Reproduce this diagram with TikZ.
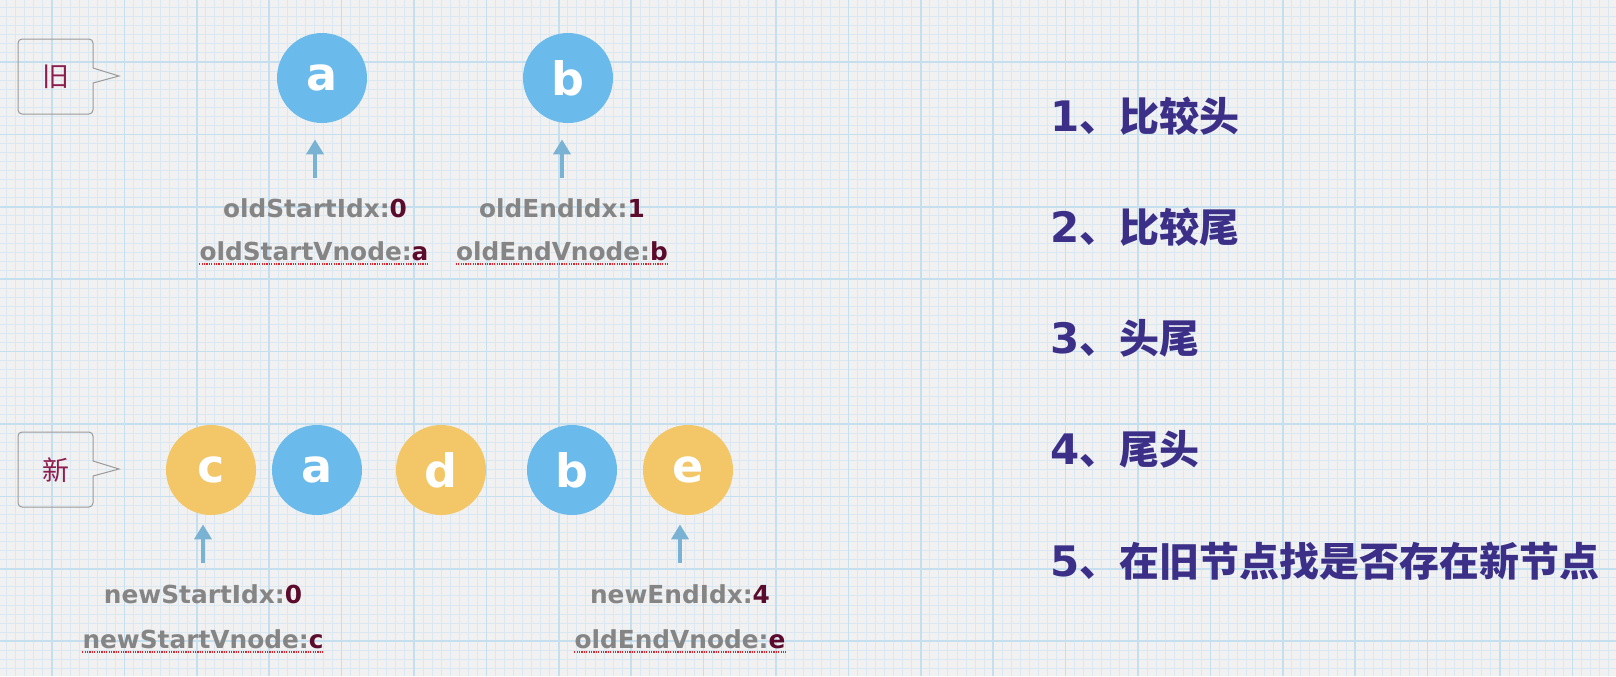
\documentclass[tikz,border=0pt]{standalone}
\usepackage{fontspec}
\setmainfont{DejaVu Sans}
\newfontfamily\cjk{Noto Sans CJK SC}
\usetikzlibrary{arrows.meta}

\definecolor{paper}{HTML}{F1F1F1}
\definecolor{finegrid}{HTML}{DCE8F1}
\definecolor{majorgrid}{HTML}{C6DFEF}
\definecolor{nodeblue}{HTML}{6ABBEB}
\definecolor{nodeyellow}{HTML}{F3C767}
\definecolor{arrowblue}{HTML}{7AB2D4}
\definecolor{labelgray}{HTML}{858585}
\definecolor{valred}{HTML}{5B0B2B}
\definecolor{spellred}{HTML}{E8202A}
\definecolor{tagred}{HTML}{8C1D4F}
\definecolor{boxgray}{HTML}{9A9A9A}
\definecolor{listblue}{HTML}{3B2F87}

\newcommand{\val}[1]{\textcolor{valred}{#1}}

\tikzset{
  finegrid/.style={draw=finegrid, line width=0.5pt},
  majorgrid/.style={draw=majorgrid, line width=0.8pt},
  vnode/.style={circle, minimum size=45pt, inner sep=0pt, text=white,
    font=\fontsize{23pt}{23pt}\selectfont\bfseries},
  oldv/.style={vnode, fill=nodeblue},
  newv/.style={vnode, fill=nodeyellow},
  idx/.style={anchor=base, inner sep=0pt, text=labelgray,
    font=\fontsize{12.4pt}{14pt}\selectfont\bfseries},
  ptr/.style={-{Triangle[width=8.5pt,length=7.5pt]}, line width=2pt, draw=arrowblue},
  spell/.style={draw=spellred, line width=0.7pt, dash pattern=on 0.6pt off 0.6pt},
  callout/.style={draw=boxgray, line width=0.5pt},
  tag/.style={inner sep=0pt, text=tagred, font=\cjk\fontsize{13.5pt}{14pt}\selectfont},
  steptext/.style={anchor=base west, inner sep=0pt, text=listblue,
    font=\fontsize{21pt}{21pt}\selectfont\bfseries},
}

\begin{document}
\begin{tikzpicture}[x=0.5pt, y=-0.5pt]
  \useasboundingbox (0,0) rectangle (1616,676);

  % graph paper
  \fill[paper] (0,0) rectangle (1616,676);
  \foreach \i in {0,...,177}
    \draw[finegrid] ({6.75+9.05*\i},0) -- ++(0,676);
  \foreach \j in {0,...,73}
    \draw[finegrid] (0,{7.7+9.05*\j}) -- ++(1616,0);
  \foreach \i in {0,...,21}
    \draw[majorgrid] ({52+72.4*\i},0) -- ++(0,676);
  \foreach \j in {0,...,8}
    \draw[majorgrid] (0,{62+72.4*\j}) -- ++(1616,0);

  % callouts
  \foreach \dy/\word/\name in {0/旧/tagold, 393/新/tagnew} {
    \begin{scope}[shift={(0,\dy)}]
      \draw[callout] (119,76) -- (93,83) [rounded corners=2pt] -- (93,114)
        -- (18,114) -- (18,39) -- (93,39) [sharp corners] -- (93,68) -- cycle;
      \node[tag] (\name) at (56,77) {\word};
    \end{scope}
  }

  % old vnodes
  \node[oldv] (olda) at (322,78) {a};
  \node[oldv] (oldb) at (568,78) {b};

  \node[idx] (osidx) at (315,217) {oldStartIdx:\val{0}};
  \node[idx] (osvn) at (314,260) {oldStartVnode:\val{a}};
  \node[idx] (oeidx) at (562,217) {oldEndIdx:\val{1}};
  \node[idx] (oevn) at (562,260) {oldEndVnode:\val{b}};

  \draw[ptr] ([yshift=10pt]osidx.north) -- ([yshift=-8pt]osidx.north |- olda.south);
  \draw[ptr] ([yshift=10pt]oeidx.north) -- ([yshift=-8pt]oeidx.north |- oldb.south);
  \draw[spell] ([yshift=-2pt]osvn.base west) -- ([yshift=-2pt]osvn.base east);
  \draw[spell] ([yshift=-2pt]oevn.base west) -- ([yshift=-2pt]oevn.base east);

  % new vnodes
  \node[newv] (newc) at (211,470) {c};
  \node[oldv] (newa) at (317,470) {a};
  \node[newv] (newd) at (441,470) {d};
  \node[oldv] (newb) at (572,470) {b};
  \node[newv] (newe) at (688,470) {e};

  \node[idx] (nsidx) at (203,603) {newStartIdx:\val{0}};
  \node[idx] (nsvn) at (203,648) {newStartVnode:\val{c}};
  \node[idx] (neidx) at (680,603) {newEndIdx:\val{4}};
  \node[idx] (nevn) at (680,648) {oldEndVnode:\val{e}};

  \draw[ptr] ([yshift=10.5pt]nsidx.north) -- ([yshift=-4.5pt]nsidx.north |- newc.south);
  \draw[ptr] ([yshift=10.5pt]neidx.north) -- ([yshift=-4.5pt]neidx.north |- newe.south);
  \draw[spell] ([yshift=-2pt]nsvn.base west) -- ([yshift=-2pt]nsvn.base east);
  \draw[spell] ([yshift=-2pt]nevn.base west) -- ([yshift=-2pt]nevn.base east);

  % steps
  \foreach \i/\txt [count=\k from 0] in {1/比较头, 2/比较尾, 3/头尾, 4/尾头, 5/在旧节点找是否存在新节点}
    \node[steptext] (rule\i) at (1050,{131+111.3*\k})
      {\i{\cjk\bfseries\fontsize{20pt}{21pt}\selectfont 、\txt}};
\end{tikzpicture}
\end{document}
